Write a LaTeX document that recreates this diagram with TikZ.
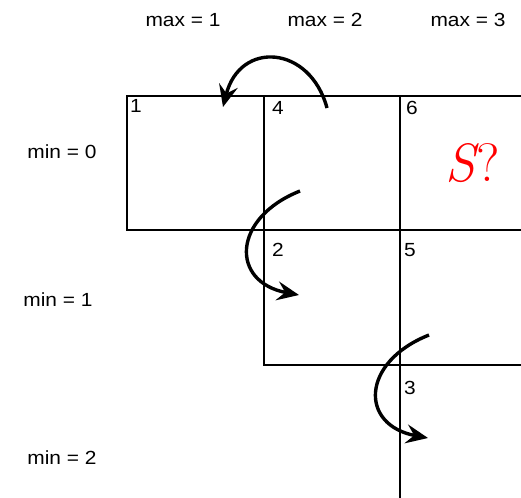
\documentclass[tikz,border=0pt]{standalone}
\usepackage{fontspec}
\setmainfont{Liberation Sans}
\newfontfamily\lab[FakeStretch=1.1]{Liberation Sans}
\newfontfamily\lmr{Latin Modern Roman}
\usetikzlibrary{arrows.meta}
\begin{document}
\begin{tikzpicture}[x=1pt,y=-1pt,
  gridline/.style={line width=1.4pt, line cap=rect},
  lbl/.style={font=\lab\fontsize{19}{22}\selectfont, inner sep=0pt},
  cellnum/.style={font=\lab\fontsize{19}{22}\selectfont, inner sep=0pt, anchor=base west},
  jump/.style={line width=3.4pt, -{Stealth[length=22pt,width=19pt,inset=8pt]}}]
\useasboundingbox (0,0) rectangle (521,497);
% grid
\coordinate (a0) at (127,96);  \coordinate (a1) at (264,96);  \coordinate (a2) at (400,96);  \coordinate (a3) at (521,96);
\coordinate (b0) at (127,230); \coordinate (b1) at (264,230); \coordinate (b2) at (400,230); \coordinate (b3) at (521,230);
\coordinate (c1) at (264,365); \coordinate (c2) at (400,365); \coordinate (c3) at (521,365);
\coordinate (d2) at (400,497);
\draw[gridline] (a3) -- (a0) -- (b0) -- (b3);
\draw[gridline] (a1) -- (c1) -- (c3);
\draw[gridline] (a2) -- (d2);
% column / row labels
\node[lbl] (mx1) at (183,20) {max = 1};
\node[lbl] (mx2) at (325,20) {max = 2};
\node[lbl] (mx3) at (468,20) {max = 3};
\node[lbl] (mn0) at (62,152) {min = 0};
\node[lbl] (mn1) at (58,300) {min = 1};
\node[lbl] (mn2) at (62,458) {min = 2};
% cell numbers
\node[cellnum] (n1) at (130,113) {1};
\node[cellnum] (n4) at (272,115) {4};
\node[cellnum] (n6) at (406,115) {6};
\node[cellnum] (n2) at (272,256) {2};
\node[cellnum] (n5) at (404,256) {5};
\node[cellnum] (n3) at (404,394) {3};
% S?
\node[text=red, inner sep=0pt, font=\lmr\fontsize{54}{60}\selectfont] (s) at (473,163) {{\itshape S}\kern1pt?};
% arrows
\coordinate (p1s) at (327,108); \coordinate (p1e) at (223,107);
\draw[jump] (p1s) .. controls (310,45) and (240,40) .. (p1e);
\coordinate (p2s) at (300,191); \coordinate (p2e) at (299,295);
\draw[jump] (p2s) .. controls (232,218) and (230,282) .. (p2e);
\coordinate (p3s) at (429,335); \coordinate (p3e) at (428,438);
\draw[jump] (p3s) .. controls (361,362) and (359,425) .. (p3e);
\end{tikzpicture}
\end{document}
